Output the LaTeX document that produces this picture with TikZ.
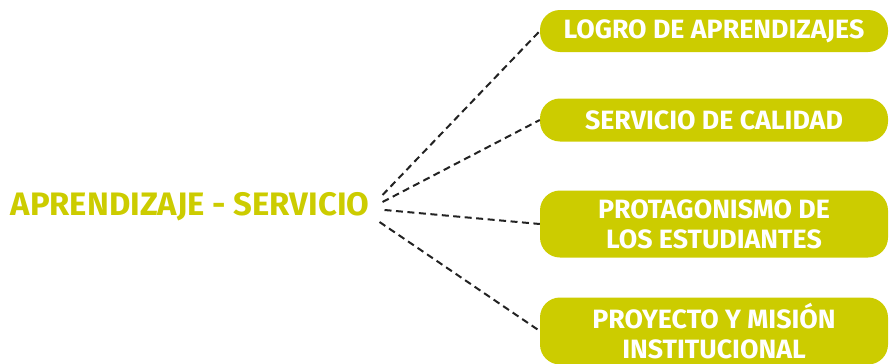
\documentclass[tikz,border=0pt]{standalone}
\usepackage{fontspec}
\setmainfont{Fira Sans}[FakeStretch=1.01]
\definecolor{lima}{HTML}{CCCC00}
\definecolor{guion}{HTML}{222222}

\begin{document}
\begin{tikzpicture}[x=1pt,y=-1pt,
  caja/.style={fill=lima,rounded corners=20pt,minimum width=348pt,align=center,
    text=white,font=\fontsize{26.5}{30}\selectfont\bfseries,inner sep=0pt},
  enlace/.style={draw=guion,line width=2pt,dash pattern=on 7pt off 4.5pt}]
 \useasboundingbox (0,0) rectangle (892,364);
 \node[inner sep=0pt,text=lima,font=\fontsize{32.5}{36}\selectfont\bfseries] (apse) at (190,207) {APRENDIZAJE - SERVICIO};
 \node[caja,minimum height=42pt] (logro) at (714,31) {LOGRO DE APRENDIZAJES};
 \node[caja,minimum height=43pt] (calidad) at (714,120) {SERVICIO DE CALIDAD};
 \node[caja,minimum height=67pt] (protag) at (714,224) {PROTAGONISMO DE\\LOS ESTUDIANTES};
 \node[caja,minimum height=67pt] (mision) at (714,331) {PROYECTO Y MISIÓN\\INSTITUCIONAL};
 \draw[enlace] ([shift={(13pt,12pt)}]apse.east)--(logro.west);
 \draw[enlace] ([shift={(13pt,5pt)}]apse.east)--(calidad.west);
 \draw[enlace] ([shift={(15pt,-3pt)}]apse.east)--(protag.west);
 \draw[enlace] ([shift={(10pt,-15pt)}]apse.east)--(mision.west);
\end{tikzpicture}
\end{document}
